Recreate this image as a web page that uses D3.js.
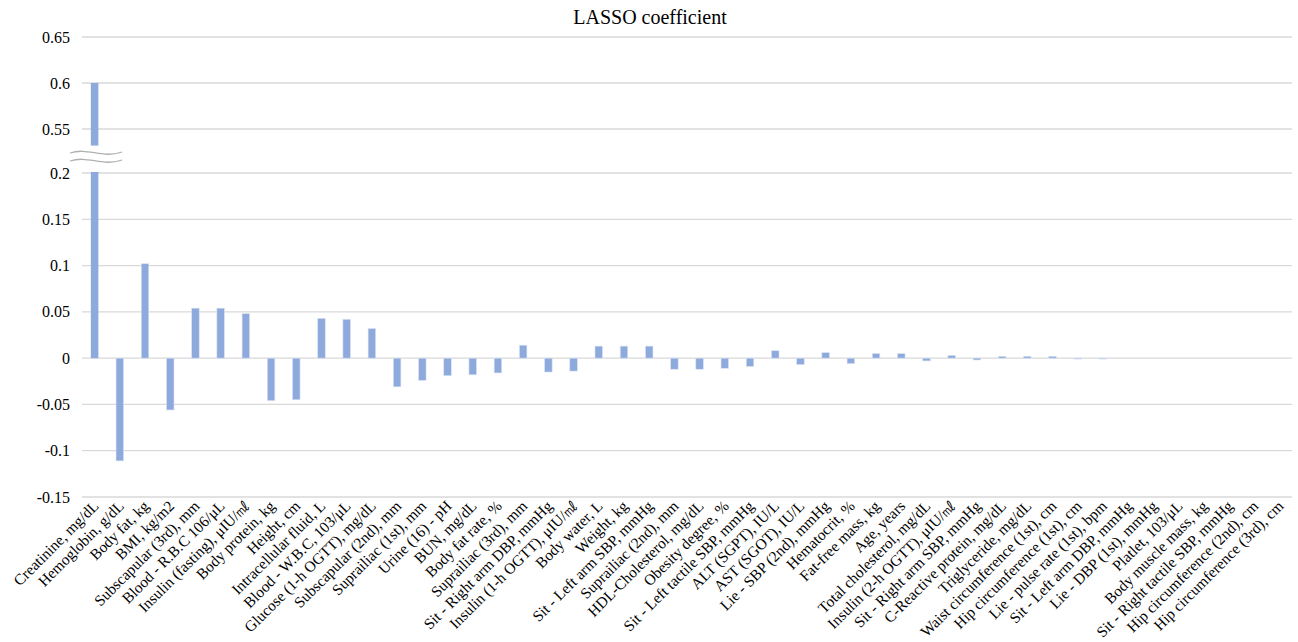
<!DOCTYPE html>
<html>
<head>
<meta charset="utf-8">
<script src="https://cdn.jsdelivr.net/npm/d3@7"></script>
<style>
  body { margin: 0; background: #fff; }
</style>
</head>
<body>
<div id="chart"></div>
<script>
// chart data
const features = [
  "Creatinine, mg/dL", "Hemoglobin, g/dL", "Body fat, kg", "BMI, kg/m2",
  "Subscapular (3rd), mm", "Blood - R.B.C 106/μL", "Insulin (fasting), μIU/㎖", "Body protein, kg",
  "Height, cm", "Intracellular fluid, L", "Blood - W.B.C, 103/μL", "Glucose (1-h OGTT), mg/dL",
  "Subscapular (2nd), mm", "Suprailiac (1st), mm", "Urine (16) - pH", "BUN, mg/dL",
  "Body fat rate, %", "Suprailiac (3rd), mm", "Sit - Right arm DBP, mmHg", "Insulin (1-h OGTT), μIU/㎖",
  "Body water, L", "Weight, kg", "Sit - Left arm SBP, mmHg", "Suprailiac (2nd), mm",
  "HDL-Cholesterol, mg/dL", "Obesity degree, %", "Sit - Left tactile SBP, mmHg", "ALT (SGPT), IU/L",
  "AST (SGOT), IU/L", "Lie - SBP (2nd), mmHg", "Hematocrit, %", "Fat-free mass, kg",
  "Age, years", "Total cholesterol, mg/dL", "Insulin (2-h OGTT), μIU/㎖", "Sit - Right arm SBP, mmHg",
  "C-Reactive protein, mg/dL", "Triglyceride, mg/dL", "Waist circumference (1st), cm", "Hip circumference (1st), cm",
  "Lie - pulse rate (1st), bpm", "Sit - Left arm DBP, mmHg", "Lie - DBP (1st), mmHg", "Platlet, 103/μL",
  "Body muscle mass, kg", "Sit - Right tactile SBP, mmHg", "Hip circumference (2nd), cm", "Hip circumference (3rd), cm"
];
const coefs = [
  0.6, -0.111, 0.102, -0.056,
  0.054, 0.054, 0.048, -0.046,
  -0.045, 0.043, 0.042, 0.032,
  -0.031, -0.024, -0.019, -0.018,
  -0.016, 0.014, -0.015, -0.014,
  0.013, 0.013, 0.013, -0.012,
  -0.012, -0.011, -0.009, 0.008,
  -0.007, 0.006, -0.006, 0.005,
  0.005, -0.003, 0.003, -0.002,
  0.002, 0.002, 0.002, -0.001,
  -0.001, 0, 0, 0,
  0, 0, 0, 0
];
const lowTicks = [0.2, 0.15, 0.1, 0.05, 0, -0.05, -0.1, -0.15];
const highTicks = [0.65, 0.6, 0.55];
const tickLabels = ["0.65", "0.6", "0.55", "0.2", "0.15", "0.1", "0.05", "0", "-0.05", "-0.1", "-0.15"];
const breakFrom = 0.2, breakTo = 0.532;   // the axis is cut between these
const title = "LASSO coefficient";

const width = 1298, height = 642;
const plot = {left: 82, right: 1292};
const serif = "'Liberation Serif', 'DejaVu Serif', serif";

let svg = d3.select("#chart").append("svg")
    .attr("width", width)
    .attr("height", height)
    .attr("font-family", serif);

// two linear pieces, one step of gap between 0.2 and 0.55
let yLow = d3.scaleLinear().domain([-0.15, 0.2]).range([497, 173]);
let yHigh = d3.scaleLinear().domain([0.55, 0.65]).range([129, 37]);
let y = function(v) { return v <= breakFrom ? yLow(v) : yHigh(v); };

let x = d3.scaleBand()
    .domain(features)
    .range([plot.left, plot.right])
    .paddingInner(0.7)
    .paddingOuter(0.35);

// gridlines
let allTicks = highTicks.concat(lowTicks);
svg.append("g").selectAll("line")
    .data(allTicks)
    .enter().append("line")
    .attr("x1", plot.left)
    .attr("x2", plot.right)
    .attr("y1", d => y(d))
    .attr("y2", d => y(d))
    .attr("stroke", "#d9d9d9")
    .attr("stroke-width", 1.3);

// y tick labels
svg.append("g").selectAll("text")
    .data(allTicks)
    .enter().append("text")
    .attr("x", 70)
    .attr("y", d => y(d))
    .attr("dy", "0.35em")
    .style("text-anchor", "end")
    .style("font-size", "16px")
    .text((d, i) => tickLabels[i]);

// bars
let data = features.map((f, i) => ({name: f, value: coefs[i]}));
let bars = svg.append("g");
data.forEach(function(d) {
    if (d.value === 0) return;
    if (d.value > breakFrom) {
        // broken bar: lower piece up to the cut, upper piece from the cut top
        bars.append("rect")
            .attr("x", x(d.name))
            .attr("width", x.bandwidth())
            .attr("y", yLow(breakFrom) - 1)
            .attr("height", yLow(0) - yLow(breakFrom) + 1)
            .attr("fill", "#8eaadc");
        bars.append("rect")
            .attr("x", x(d.name))
            .attr("width", x.bandwidth())
            .attr("y", yHigh(d.value))
            .attr("height", yHigh(breakTo) - yHigh(d.value))
            .attr("fill", "#8eaadc");
    } else {
        bars.append("rect")
            .attr("x", x(d.name))
            .attr("width", x.bandwidth())
            .attr("y", Math.min(y(d.value), y(0)))
            .attr("height", Math.abs(y(d.value) - y(0)))
            .attr("fill", "#8eaadc")
            .attr("stroke", "#dbe4f4")
            .attr("stroke-width", 0.6);
    }
});

// axis break marks
[153, 161].forEach(function(yy) {
    svg.append("path")
        .attr("d", `M70,${yy} C88,${yy - 6} 102,${yy + 6} 122,${yy - 1}`)
        .attr("fill", "none")
        .attr("stroke", "#b0b0b0")
        .attr("stroke-width", 1.3);
});

// x labels, rotated
svg.append("g").selectAll("text")
    .data(features)
    .enter().append("text")
    .attr("transform", d => `translate(${x(d) + x.bandwidth() / 2 + 5}, 507) rotate(-45)`)
    .style("text-anchor", "end")
    .style("font-size", "15.4px")
    .text(d => d);

// title
svg.append("text")
    .attr("x", 650)
    .attr("y", 24)
    .style("text-anchor", "middle")
    .style("font-size", "20px")
    .text(title);
</script>
</body>
</html>
